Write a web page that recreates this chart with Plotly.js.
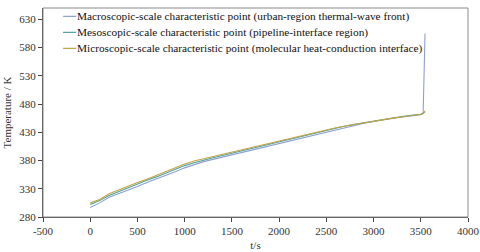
<!DOCTYPE html>
<html><head><meta charset="utf-8">
<script src="https://cdn.plot.ly/plotly-3.0.1.min.js"></script>
<style>html,body{margin:0;padding:0;background:#fff}#chart{width:480px;height:252px}</style>
</head><body><div id="chart"></div>
<script>
const seriesNames = [
  "Macroscopic-scale characteristic point (urban-region thermal-wave front)",
  "Mesoscopic-scale characteristic point (pipeline-interface region)",
  "Microscopic-scale characteristic point (molecular heat-conduction interface)"
];
const seriesColors = ["#8e9fcf", "#4f9fa3", "#c4a43e"];
const time = [0,100,200,300,400,500,600,700,800,900,1000,1100,1200,1300,1400,1500,1600,1700,1800,1900,2000,2100,2200,2300,2400,2500,2600,2700,2800,2900,3000,3100,3200,3300,3400,3500,3525,3545];
const macroT = [297,305,315,321,328,334,341,347,354,360,367,373,378,382,386,390,395,399,403,407,411,415,419,423,427,431,435,439,442,446,449,452,455,457,459,461,463,605];
const mesoT  = [302,309,318,325,332,338,345,351,358,364,371,376,381,385,389,393,398,402,406,410,414,418,422,426,430,434,437,441,444,447,450,453,456,458,460,462,464,466];
const microT = [305,311,321,328,335,341,347,354,361,367,374,379,383,387,391,395,399,403,407,411,415,419,423,427,431,435,438,441,444,447,450,453,455,457,459,462,463,468];
const yTicks = [280,330,380,430,480,530,580,630];
const xTicks = [-500,0,500,1000,1500,2000,2500,3000,3500,4000];

const allY = [macroT, mesoT, microT];
const traces = allY.map((y, i) => ({
  x: time, y: y, type: "scatter", mode: "lines", name: seriesNames[i],
  line: {color: seriesColors[i], width: 1.1}, showlegend: false
}));

const font = {family: "Liberation Serif, Times New Roman, serif", size: 11, color: "#333"};
const shapes = [{type: "rect", xref: "paper", yref: "paper", x0: 0, x1: 1, y0: 0, y1: 1,
  line: {color: "#8a8a8a", width: 1}}];
const annotations = [];
const legTop = 0.96, legStep = 16 / 209;
seriesNames.forEach((n, i) => {
  const yy = legTop - i * legStep;
  shapes.push({type: "line", xref: "paper", yref: "paper", x0: 20/423, x1: 33/423, y0: yy, y1: yy,
    line: {color: seriesColors[i], width: 1.2}});
  annotations.push({xref: "paper", yref: "paper", x: 32/423, y: yy, xanchor: "left", yanchor: "middle",
    text: n, showarrow: false, font: {family: font.family, size: 11.3, color: "#111"}});
});

const layout = {
  width: 480, height: 252,
  margin: {l: 43, r: 12, t: 8, b: 35},
  paper_bgcolor: "#fff", plot_bgcolor: "#fff",
  font: font,
  xaxis: {range: [-500, 4000], tickvals: xTicks, ticktext: xTicks.map(String), ticks: "outside", ticklen: 4,
    tickcolor: "#444", showline: true, linecolor: "#444", linewidth: 1, showgrid: false, zeroline: false,
    title: {text: "t/s", font: font, standoff: 5}, tickfont: font},
  yaxis: {range: [280, 650], tickvals: yTicks, ticktext: yTicks.map(String), ticks: "outside", ticklen: 4,
    tickcolor: "#444", showline: true, linecolor: "#444", linewidth: 1, showgrid: false, zeroline: false,
    title: {text: "Temperature / K", font: font, standoff: 5}, tickfont: font},
  shapes: shapes, annotations: annotations, showlegend: false
};
Plotly.newPlot("chart", traces, layout, {staticPlot: true, displayModeBar: false});
</script></body></html>
